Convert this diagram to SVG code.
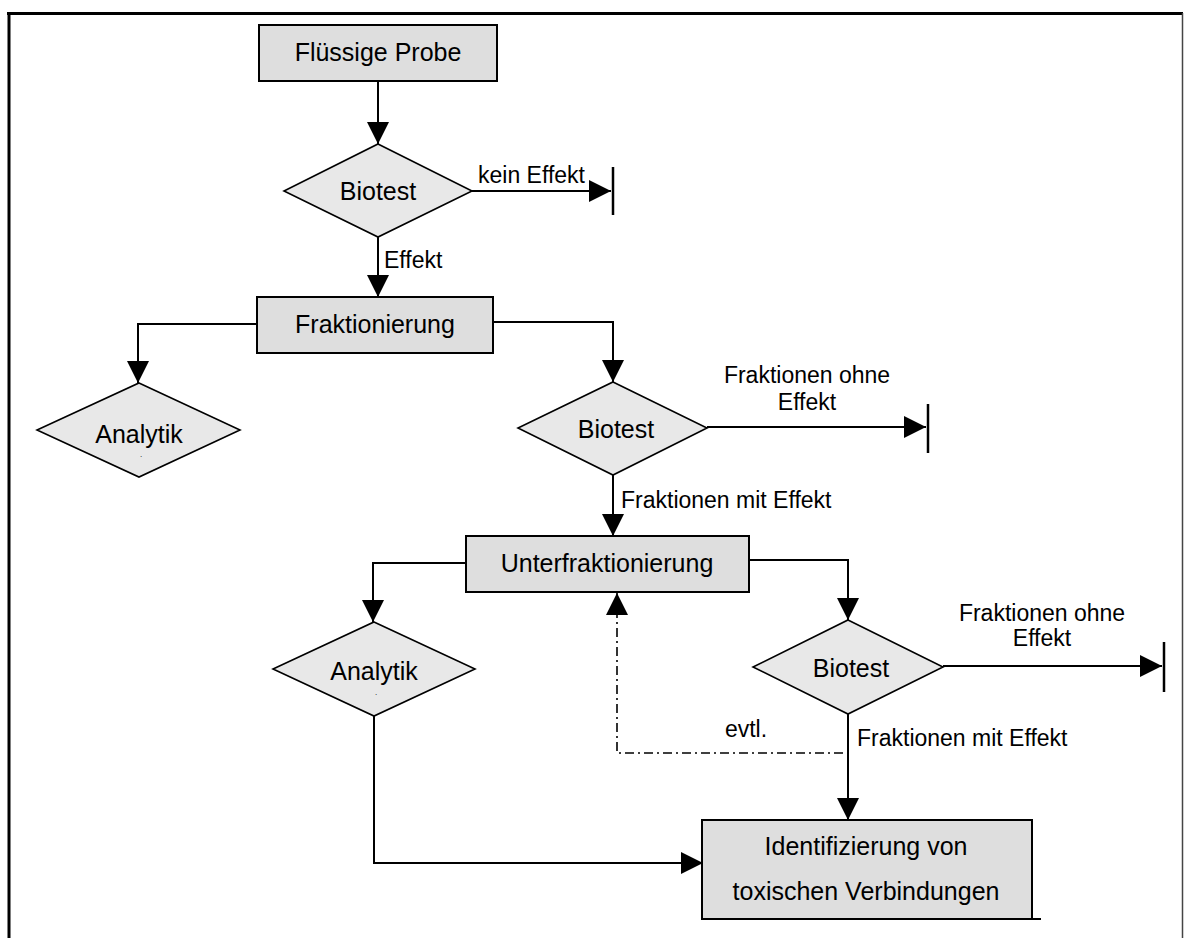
<svg xmlns="http://www.w3.org/2000/svg" width="1184" height="938" viewBox="0 0 1184 938">
<style>
.box{fill:#dedede;stroke:#000;stroke-width:2}
.dia{fill:#e8e8e8;stroke:#000;stroke-width:1.6}
.ln{fill:none;stroke:#000;stroke-width:2}
.dd{fill:none;stroke:#000;stroke-width:1.6;stroke-dasharray:9 4 2 4}
.bar{stroke:#000;stroke-width:2.5}
text{font-family:"Liberation Sans",Arial,sans-serif;fill:#000}
.t{font-size:25px;text-anchor:middle}
.s{font-size:23px}
.sc{font-size:23px;text-anchor:middle}
.dot{font-size:8px;text-anchor:middle}
</style>
<defs>
<marker id="ah" markerUnits="userSpaceOnUse" markerWidth="22" markerHeight="22" refX="20" refY="10" orient="auto" viewBox="0 0 20 20">
<path d="M0,0 L20,10 L0,20 z" fill="#000"/>
</marker>
</defs>
<rect width="1184" height="938" fill="#fff"/>
<g id="frame">
<line x1="7" y1="13.5" x2="1183" y2="13.5" stroke="#000" stroke-width="3"/>
<line x1="9" y1="12" x2="9" y2="938" stroke="#000" stroke-width="3"/>
<line x1="1182.5" y1="13" x2="1182.5" y2="938" stroke="#444" stroke-width="1.5"/>
</g>
<g id="connectors">
<path class="ln" d="M378,81 V144" marker-end="url(#ah)"/>
<path class="ln" d="M472,191 H611" marker-end="url(#ah)"/>
<line class="bar" x1="613" y1="167" x2="613" y2="215"/>
<path class="ln" d="M378,237 V297" marker-end="url(#ah)"/>
<path class="ln" d="M257,324 H138 V383" marker-end="url(#ah)"/>
<path class="ln" d="M493,322 H613 V382" marker-end="url(#ah)"/>
<path class="ln" d="M707,427 H926" marker-end="url(#ah)"/>
<line class="bar" x1="928" y1="404" x2="928" y2="453"/>
<path class="ln" d="M613,475 V536" marker-end="url(#ah)"/>
<path class="ln" d="M466,563 H373 V622" marker-end="url(#ah)"/>
<path class="ln" d="M749,560 H848 V620" marker-end="url(#ah)"/>
<path class="ln" d="M943,666 H1162" marker-end="url(#ah)"/>
<line class="bar" x1="1164" y1="642" x2="1164" y2="692"/>
<path class="ln" d="M848,714 V820" marker-end="url(#ah)"/>
<path class="ln" d="M374,716 V863 H703" marker-end="url(#ah)"/>
<path class="dd" d="M843,753 H617 V593" marker-end="url(#ah)"/>
<text class="s" x="478" y="183">kein Effekt</text>
<text class="s" x="384" y="268">Effekt</text>
<text class="sc" x="807" y="383">Fraktionen ohne</text>
<text class="sc" x="807" y="410">Effekt</text>
<text class="s" x="621" y="508">Fraktionen mit Effekt</text>
<text class="sc" x="1042" y="621">Fraktionen ohne</text>
<text class="sc" x="1042" y="646">Effekt</text>
<text class="s" x="857" y="746">Fraktionen mit Effekt</text>
<text class="sc" x="746" y="737">evtl.</text>
</g>
<g id="probe">
<rect class="box" x="259" y="25" width="238" height="56"/>
<text class="t" x="378" y="61">Flüssige Probe</text>
</g>
<g id="biotest1">
<polygon class="dia" points="378,144 472,191 378,237 284,191"/>
<text class="t" x="378" y="200">Biotest</text>
</g>
<g id="fraktionierung">
<rect class="box" x="257" y="297" width="236" height="56"/>
<text class="t" x="375" y="333">Fraktionierung</text>
</g>
<g id="analytik1">
<polygon class="dia" points="139,383 240,430 139,477 37,430"/>
<text class="t" x="139" y="443">Analytik</text>
<text class="dot" x="141" y="457">.</text>
</g>
<g id="biotest2">
<polygon class="dia" points="613,382 707,428 613,475 518,428"/>
<text class="t" x="616" y="438">Biotest</text>
</g>
<g id="unterfraktionierung">
<rect class="box" x="466" y="536" width="283" height="56"/>
<text class="t" x="607" y="572">Unterfraktionierung</text>
</g>
<g id="analytik2">
<polygon class="dia" points="374,622 475,669 374,716 273,669"/>
<text class="t" x="374" y="680">Analytik</text>
<text class="dot" x="376" y="695">.</text>
</g>
<g id="biotest3">
<polygon class="dia" points="848,620 943,667 848,714 753,667"/>
<text class="t" x="851" y="677">Biotest</text>
</g>
<g id="identifizierung">
<rect class="box" x="702" y="820" width="330" height="99"/>
<line x1="1032" y1="919" x2="1041" y2="919" stroke="#000" stroke-width="2"/>
<text class="t" x="866" y="855">Identifizierung von</text>
<text class="t" x="866" y="900">toxischen Verbindungen</text>
</g>
</svg>
